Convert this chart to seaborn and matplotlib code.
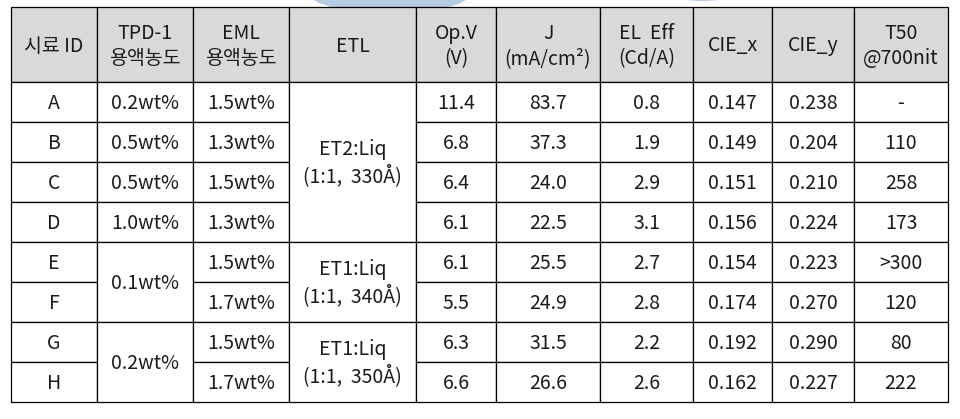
import matplotlib
matplotlib.use("Agg")
import matplotlib.pyplot as plt
import seaborn as sns
from matplotlib.patches import Rectangle, Ellipse

sns.set_style("white")
plt.rcParams['font.family'] = ['Noto Sans CJK KR', 'DejaVu Sans']

# table content
headers = ["시료 ID", "TPD-1\n용액농도", "EML\n용액농도", "ETL", "Op.V\n(V)",
           "J\n(mA/cm²)", "EL  Eff\n(Cd/A)", "CIE_x", "CIE_y", "T50\n@700nit"]
sample_id = ["A", "B", "C", "D", "E", "F", "G", "H"]
# merged cells: (text, number of rows)
tpd_conc = [("0.2wt%", 1), ("0.5wt%", 1), ("0.5wt%", 1), ("1.0wt%", 1),
            ("0.1wt%", 2), ("0.2wt%", 2)]
eml_conc = ["1.5wt%", "1.3wt%", "1.5wt%", "1.3wt%", "1.5wt%", "1.7wt%", "1.5wt%", "1.7wt%"]
etl = [("ET2:Liq\n(1:1,  330Å)", 4), ("ET1:Liq\n(1:1,  340Å)", 2), ("ET1:Liq\n(1:1,  350Å)", 2)]
op_v = ["11.4", "6.8", "6.4", "6.1", "6.1", "5.5", "6.3", "6.6"]
j_density = ["83.7", "37.3", "24.0", "22.5", "25.5", "24.9", "31.5", "26.6"]
el_eff = ["0.8", "1.9", "2.9", "3.1", "2.7", "2.8", "2.2", "2.6"]
cie_x = ["0.147", "0.149", "0.151", "0.156", "0.154", "0.174", "0.192", "0.162"]
cie_y = ["0.238", "0.204", "0.210", "0.224", "0.223", "0.270", "0.290", "0.227"]
t50 = ["-", "110", "258", "173", ">300", "120", "80", "222"]

columns = [
    [(v, 1) for v in sample_id],
    tpd_conc,
    [(v, 1) for v in eml_conc],
    etl,
    [(v, 1) for v in op_v],
    [(v, 1) for v in j_density],
    [(v, 1) for v in el_eff],
    [(v, 1) for v in cie_x],
    [(v, 1) for v in cie_y],
    [(v, 1) for v in t50],
]

# layout (pixels)
col_edges = [11, 97, 193, 289, 416, 496, 600, 693, 772, 854, 948]
head_top, head_bot, row_h = 7, 82, 40
fs = 14
line_kw = dict(edgecolor="black", linewidth=0.9)

fig = plt.figure(figsize=(9.6, 4.19), dpi=100)
ax = fig.add_axes([0, 0, 1, 1])
ax.set_xlim(0, 960)
ax.set_ylim(419, 0)
ax.axis("off")

# faint watermark peeking in at the top edge
ax.add_patch(Ellipse((390, -6), 160, 38, facecolor="#a8c3df", edgecolor="none", alpha=0.85))
ax.add_patch(Ellipse((702, -4), 52, 10, facecolor="#a8c3df", edgecolor="none", alpha=0.85))

for c, h in enumerate(headers):
    x0, x1 = col_edges[c], col_edges[c + 1]
    ax.add_patch(Rectangle((x0, head_top), x1 - x0, head_bot - head_top,
                           facecolor="#d9d9d9", **line_kw))
    ax.text((x0 + x1) / 2, (head_top + head_bot) / 2 + 1.5, h, ha="center", va="center",
            fontsize=fs, color="#1a1a1a", linespacing=1.25)

for c, cells in enumerate(columns):
    x0, x1 = col_edges[c], col_edges[c + 1]
    r = 0
    for text, span in cells:
        y0 = head_bot + r * row_h
        ax.add_patch(Rectangle((x0, y0), x1 - x0, span * row_h,
                               facecolor="white", **line_kw))
        ax.text((x0 + x1) / 2, y0 + span * row_h / 2 + 1, text, ha="center", va="center",
                fontsize=fs, color="#1a1a1a", linespacing=1.25)
        r += span

fig.savefig("out.png", dpi=100)
